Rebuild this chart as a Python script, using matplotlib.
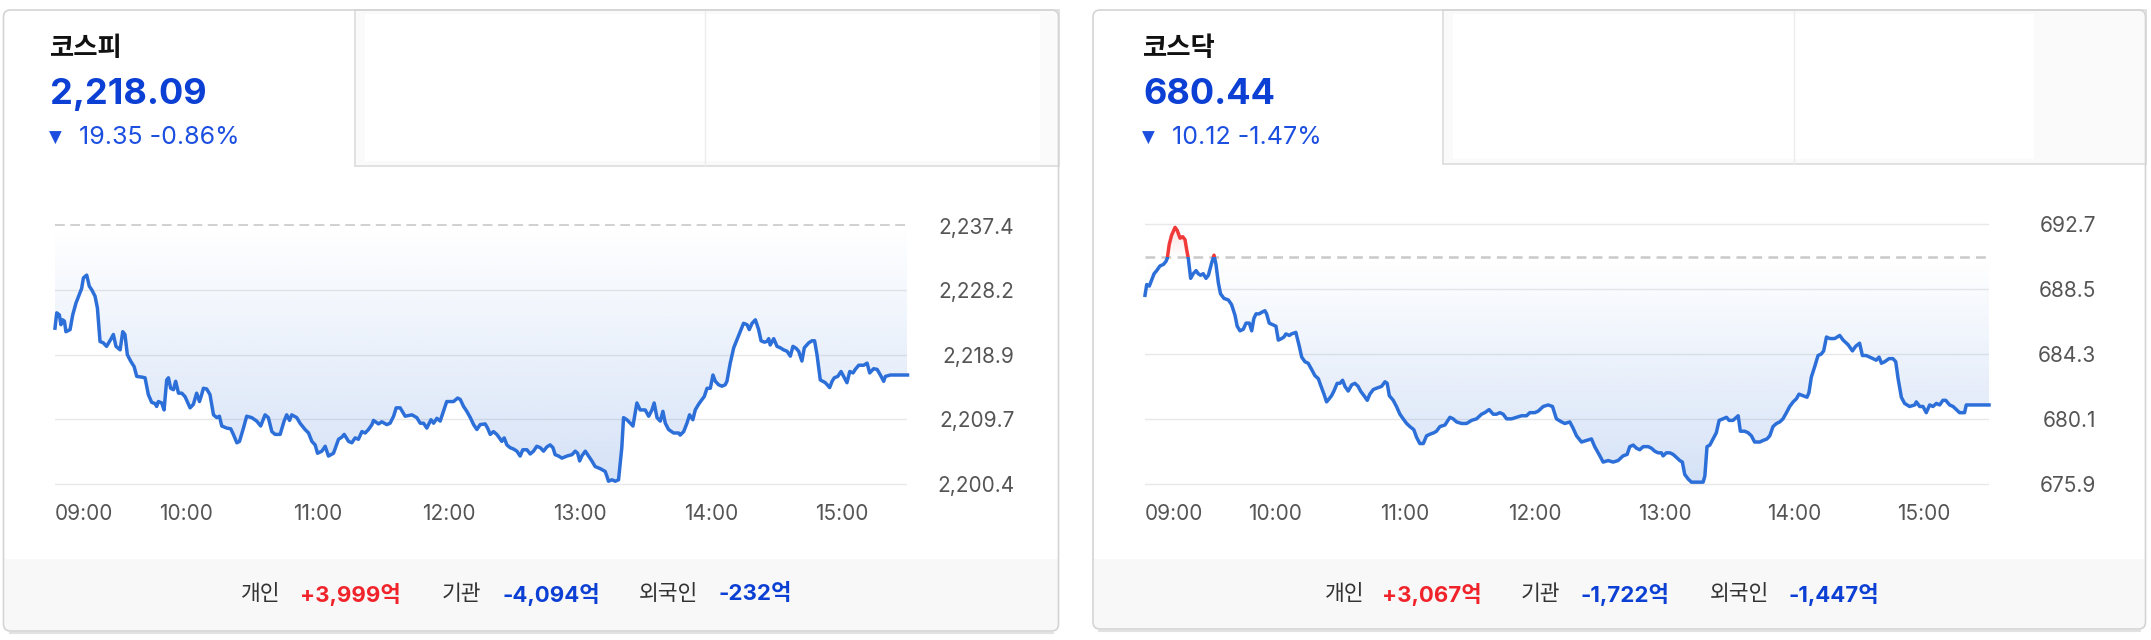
import matplotlib
matplotlib.use("Agg")
import matplotlib.pyplot as plt
import numpy as np
from matplotlib.patches import Rectangle, FancyBboxPatch

plt.rcParams['font.family'] = ['Inter', 'Noto Sans CJK KR', 'DejaVu Sans']
plt.rcParams['lines.scale_dashes'] = False

# ---- data (minutes after 09:00, index value) ----
kospi_min = [0, 0.8, 2.0, 2.7, 3.5, 4.3, 5.0, 6.9, 8.1, 9.6, 11.1, 12.2, 13.0, 14.5, 15.7, 16.8,
             18.3, 19.4, 20.6, 22.1, 23.6, 25.5, 26.7, 27.9, 29.8, 31.0, 32.0, 33.1, 34.6, 36.2,
             37.4, 39.7, 41.2, 42.7, 44.2, 45.8, 46.5, 47.3, 48.8, 49.9, 51.1, 51.9, 52.9, 54.2,
             55.2, 56.5, 58.0, 59.5, 61.8, 63.3, 64.8, 66.1, 67.1, 67.9, 69.4, 70.9, 72.5, 74.0,
             75.2, 76.3, 78.6, 80.4, 81.6, 83.2, 84.4, 86.2, 87.7, 90.0, 92.3, 94.1, 96.1, 97.6,
             99.2, 100.7, 103.0, 104.8, 106.0, 107.3, 108.3, 110.6, 112.1, 114.4, 116.0, 117.5,
             119.0, 120.1, 122.1, 123.6, 125.1, 127.4, 129.7, 131.2, 132.3, 134.3, 135.8, 137.3,
             138.8, 140.4, 141.9, 143.4, 145.0, 145.7, 148.0, 149.5, 151.8, 153.3, 154.9, 156.1,
             157.9, 160.2, 163.3, 165.5, 167.1, 168.6, 170.1, 172.0, 173.2, 174.7, 176.2, 177.7,
             179.2, 182.3, 184.2, 185.4, 186.9, 188.4, 190.0, 191.5, 193.0,
             194.5, 196.8, 197.9, 199.1, 200.6, 202.1, 203.3, 204.4, 205.5, 206.7, 208.2, 209.8,
             211.3, 212.8, 214.0, 215.9, 217.4, 218.9, 220.4, 222.0, 223.5, 225.0, 226.5, 227.8,
             228.8, 230.4, 231.9, 234.2, 236.5, 238.0, 239.1, 240.0, 241.0, 242.6, 244.1, 245.6,
             247.1, 249.4, 251.7, 252.5, 253.2, 254.8, 256.3, 257.8, 259.3, 260.1, 261.6, 263.2,
             264.4, 266.2, 267.7, 270.0, 271.6, 273.1, 274.1, 275.4, 276.9, 278.1, 279.2, 280.7,
             283.0, 285.3, 286.0, 287.6, 289.1, 290.3, 291.8, 292.9, 294.4, 296.0, 297.0, 298.3,
             299.8, 301.0, 302.1, 303.6, 305.1, 306.6, 307.4, 308.9, 310.5, 312.3, 313.5, 315.0,
             316.6, 317.6, 318.9, 320.4, 321.9, 323.0, 324.5, 325.7, 326.5, 327.2, 328.8, 330.3,
             331.8, 333.3, 334.9, 336.4, 337.6, 339.1, 340.2, 341.7, 342.8, 344.8, 346.3, 347.5,
             348.6, 350.1, 352.4, 354.4, 355.5, 356.5, 358.1, 359.6, 360.8, 362.3, 363.6, 365.1,
             366.1, 367.7, 370.0, 371.5, 372.7, 374.5, 376.1, 377.6, 379.1, 379.9, 382.2, 390.0]
kospi_val = [2222.7, 2224.9, 2224.6, 2223.2, 2223.9, 2223.7, 2222.2, 2222.5, 2224.6, 2226.3, 2227.5,
             2228.4, 2229.9, 2230.3, 2228.7, 2228.2, 2227.3, 2225.6, 2220.8, 2220.6, 2220.1, 2221.1,
             2221.8, 2220.1, 2219.6, 2222.2, 2221.8, 2218.9, 2218.0, 2217.2, 2215.8, 2215.7, 2215.6,
             2213.2, 2212.1, 2211.9, 2211.5, 2212.2, 2212.0, 2211.0, 2215.3, 2215.6, 2214.1, 2213.9,
             2215.1, 2213.4, 2213.4, 2212.9, 2211.3, 2211.8, 2213.4, 2212.2, 2213.2, 2214.1, 2214.0,
             2213.2, 2210.3, 2209.9, 2210.1, 2208.7, 2208.4, 2208.3, 2207.5, 2206.3, 2206.5, 2208.4,
             2210.1, 2209.9, 2209.4, 2208.7, 2210.3, 2209.9, 2207.9, 2207.5, 2207.5, 2209.4, 2210.3,
             2209.5, 2210.3, 2209.9, 2209.1, 2208.2, 2207.7, 2206.5, 2206.0, 2204.8, 2205.1, 2205.8,
             2204.4, 2204.8, 2206.8, 2207.1, 2207.5, 2206.5, 2206.3, 2207.0, 2206.8, 2207.9, 2207.7,
             2208.2, 2208.9, 2209.5, 2209.0, 2209.3, 2208.9, 2209.1, 2210.1, 2211.3, 2211.3, 2210.1,
             2210.3, 2209.9, 2209.1, 2209.1, 2208.4, 2209.6, 2209.1, 2209.8, 2209.4, 2210.8, 2212.2,
             2212.2, 2212.7, 2212.5, 2211.5, 2210.8, 2209.9, 2208.9, 2208.2,
             2208.9, 2209.0, 2208.4, 2207.5, 2207.9, 2207.5, 2207.0, 2206.5, 2207.0, 2206.0, 2205.6,
             2205.4, 2205.1, 2204.4, 2205.3, 2205.3, 2204.7, 2205.1, 2205.8, 2205.6, 2205.1, 2205.7,
             2206.0, 2205.6, 2204.6, 2204.4, 2204.1, 2204.4, 2204.6, 2205.1, 2204.8, 2203.7, 2204.4,
             2205.1, 2204.4, 2203.7, 2202.9, 2202.6, 2202.2, 2201.5, 2200.8, 2201.0, 2200.8, 2201.0,
             2205.6, 2209.9, 2209.6, 2209.1, 2208.7, 2212.0, 2211.0, 2211.0, 2210.1, 2211.0, 2212.0,
             2209.9, 2209.4, 2210.8, 2209.1, 2208.2, 2207.7, 2207.7, 2207.4, 2207.9, 2209.1, 2210.3,
             2209.6, 2211.0, 2211.8, 2212.5, 2212.9, 2214.1, 2214.1, 2216.0, 2215.1, 2214.6, 2214.4,
             2214.6, 2215.1, 2217.7, 2219.9, 2221.3, 2222.2, 2223.4, 2223.2, 2222.5, 2223.4, 2223.9,
             2222.5, 2220.9, 2220.7, 2220.8, 2221.2, 2220.3, 2221.2, 2220.1, 2219.9, 2219.6, 2219.4,
             2218.7, 2220.1, 2219.8, 2219.4, 2218.0, 2219.9, 2220.6, 2220.9, 2220.9, 2218.9, 2215.3,
             2214.9, 2214.2, 2215.1, 2215.6, 2215.8, 2216.5, 2215.8, 2214.9, 2216.5, 2216.3, 2216.8,
             2217.4, 2217.4, 2217.7, 2216.3, 2216.9, 2216.8, 2216.0, 2215.1, 2215.8, 2216.0, 2216.0]

kosdaq_min = [0, 0.8, 2.0, 3.1, 4.2, 5.4, 6.9, 8.5, 9.7, 10.3, 11.2, 12.3, 13.9, 14.9, 16.2, 17.4,
              18.5, 19.2, 20.0, 21.1, 22.3, 23.6, 24.6, 25.7, 26.9, 28.2, 29.3, 30.8, 31.9, 32.8,
              33.9, 34.9, 36.5, 38.5, 40.0, 41.6, 42.6, 43.9, 45.4, 46.7, 48.2, 49.3, 50.3, 51.3,
              52.8, 53.9, 55.4, 56.2, 57.4, 59.0, 60.5, 61.6, 63.1, 64.2, 65.1, 66.7, 67.7, 69.7,
              71.3, 72.4, 73.9, 75.4, 77.0, 78.5, 80.1, 81.1, 82.7, 83.9, 85.1, 86.2, 87.3, 88.8,
              90.1, 91.3, 92.4, 93.9, 95.5, 97.0, 98.5, 99.6, 101.2, 102.7, 103.9, 105.5, 107.3,
              109.3, 110.9, 111.9, 112.9, 114.7, 116.2, 117.8, 119.3, 120.9, 122.4, 124.2, 125.5,
              127.0, 128.6, 130.1, 131.6, 133.5, 134.7, 136.3, 138.6, 140.9, 142.4, 144.0, 146.3,
              148.6, 150.9, 153.2, 155.5, 157.0, 159.0, 160.9, 162.4, 164.0, 165.5, 167.1, 169.4,
              171.7, 174.0, 176.3, 177.8, 180.1, 181.7, 184.0, 186.3, 188.3, 190.1, 192.5, 194.0,
              196.3, 197.8, 199.4, 201.7, 204.0, 206.3, 207.8, 210.2, 211.7, 214.0, 216.3, 218.6,
              220.9, 222.8, 224.0, 225.6, 227.1, 228.6, 230.2, 232.5, 234.0, 235.6, 237.1, 238.6,
              239.4, 240.9, 242.5, 244.0, 245.6, 247.1, 248.3, 249.4, 251.0, 252.5, 254.0, 256.3,
              257.9, 258.7, 259.7, 261.0, 262.5, 264.0, 265.3, 267.1, 268.7, 269.9, 271.7, 273.3,
              274.1, 275.1, 277.1, 278.7, 280.2, 281.7, 284.1, 285.6, 287.4, 288.7, 290.2, 291.8,
              293.3, 294.8, 296.4, 297.9, 299.5, 301.0, 302.2, 304.1, 305.9, 306.8, 307.9, 309.5,
              311.0, 312.5, 313.6, 314.9, 316.4, 318.7, 321.0, 322.6, 324.9, 326.9, 328.4, 330.2,
              331.5, 333.3, 334.9, 336.4, 337.9, 339.2, 340.3, 341.8, 343.8, 345.6, 346.9, 348.0,
              349.5, 351.0, 353.3, 355.7, 356.4, 358.0, 359.5, 361.0, 362.6, 364.1, 365.7, 367.2,
              368.7, 370.0, 371.8, 373.4, 374.9, 376.4, 378.7, 379.5, 381.1, 390.0]
kosdaq_val = [688.1, 688.8, 688.7, 689.1, 689.5, 689.7, 690.0, 690.1, 690.3, 690.5, 691.4, 692.0,
              692.5, 692.3, 691.8, 691.9, 691.7, 691.1, 690.5, 689.2, 689.5, 689.7, 689.5, 689.4,
              689.5, 689.2, 689.4, 690.2, 690.7, 690.1, 688.9, 688.2, 687.9, 687.8, 687.5, 686.8,
              686.1, 685.8, 685.9, 686.3, 686.3, 685.8, 686.6, 686.9, 686.9, 687.0, 687.1, 686.9,
              686.3, 686.2, 686.1, 685.2, 685.3, 685.4, 685.6, 685.5, 685.6, 685.7, 684.8, 684.1,
              683.8, 683.7, 683.3, 682.9, 682.7, 682.3, 681.7, 681.2, 681.4, 681.6, 681.9, 682.4,
              682.4, 682.6, 682.2, 681.9, 682.3, 682.4, 682.2, 681.9, 681.6, 681.3, 681.7, 682.0,
              682.1, 682.2, 682.5, 682.4, 681.6, 681.3, 680.9, 680.4, 680.1, 679.8, 679.6, 679.4,
              678.9, 678.5, 678.5, 679.0, 679.1, 679.2, 679.3, 679.6, 679.7, 680.2, 680.1, 679.9,
              679.8, 679.8, 680.0, 680.1, 680.4, 680.5, 680.7, 680.4, 680.4, 680.5, 680.4, 680.1,
              680.1, 680.2, 680.3, 680.3, 680.5, 680.5, 680.6, 680.9, 681.0, 680.9, 680.1, 679.9,
              679.8,
              679.9, 679.5, 679.0, 678.6, 678.7, 678.8, 678.3, 677.7, 677.3, 677.4, 677.3, 677.4,
              677.7, 677.8, 678.3, 678.4, 678.2, 678.1, 678.3, 678.3, 678.2, 678.0, 677.9, 677.9,
              677.7, 677.9, 677.9, 677.8, 677.6, 677.4, 677.3, 676.5, 676.2, 676.0, 676.0, 676.0,
              676.0, 676.4, 678.3, 678.4, 678.8, 679.2, 680.0, 680.1, 680.2, 680.0, 680.0, 680.2,
              680.3, 679.3, 679.3, 679.2, 679.0, 678.6, 678.6, 678.7, 678.8, 679.0, 679.6, 679.8,
              679.9, 680.1, 680.5, 680.9, 681.2, 681.4, 681.7, 681.6, 681.5, 681.8, 682.8, 683.5,
              684.2, 684.3, 684.5, 685.4, 685.3, 685.3, 685.5, 685.2, 684.9, 684.5, 684.8, 685.0,
              684.2, 684.2, 684.1, 684.0, 683.9, 684.1, 683.7, 683.8, 684.0, 684.0, 683.8, 682.7,
              681.5, 681.1, 680.9, 681.0, 681.2, 680.9, 680.9, 680.5, 681.0, 680.9, 681.1, 681.0,
              681.3, 681.3, 681.0, 680.9, 680.7, 680.5, 680.5, 681.0, 681.0, 681.0]

kospi_prev_close = 2237.44
kosdaq_prev_close = 690.56
kospi_ticks = [2200.4, 2209.7, 2218.9, 2228.2, 2237.4]
kosdaq_ticks = [675.9, 680.1, 684.3, 688.5, 692.7]
hour_ticks = [0, 60, 120, 180, 240, 300, 360]
hour_labels = ['09:00', '10:00', '11:00', '12:00', '13:00', '14:00', '15:00']

names = ['코스피', '코스닥']
prices = ['2,218.09', '680.44']
changes = ['19.35 -0.86%', '10.12 -1.47%']
investors = ['개인', '기관', '외국인']
kospi_flows = ['+3,999억', '-4,094억', '-232억']
kosdaq_flows = ['+3,067억', '-1,722억', '-1,447억']

W, H = 2151, 640
BLUE = '#2d6fd8'
RED = '#f03a3a'
NUM_BLUE = '#0c3fd3'
FLOW_RED = '#f0232b'

fig = plt.figure(figsize=(W / 100, H / 100), dpi=100)
bg = fig.add_axes([0, 0, 1, 1])
bg.set_xlim(0, W)
bg.set_ylim(H, 0)
bg.axis('off')


def draw_card(x0, x1, top, bot, tab_r, tab_b, div, inner_r):
    bg.add_patch(FancyBboxPatch((x0, top), x1 - x0, bot - top,
                                boxstyle='round,pad=0,rounding_size=7',
                                fc='white', ec='none', zorder=1))
    bg.add_patch(Rectangle((x0 + 1, 559), x1 - x0 - 2, bot - 559 - 1,
                           fc='#f8f8f8', ec='none', zorder=2))
    # empty tabs
    bg.add_patch(Rectangle((tab_r, top), x1 - tab_r, tab_b - top,
                           fc='#fafafa', ec='#dcdcdc', lw=1.2, zorder=2))
    bg.add_patch(Rectangle((tab_r + 10, top + 4), inner_r - tab_r - 10, tab_b - top - 9,
                           fc='white', ec='none', zorder=2))
    bg.plot([div, div], [top, tab_b], color='#ececec', lw=1, zorder=3)
    bg.add_patch(FancyBboxPatch((x0, top), x1 - x0, bot - top,
                                boxstyle='round,pad=0,rounding_size=7',
                                fc='none', ec='#d4d4d4', lw=1.2, zorder=4))
    bg.plot([x0 + 6, x1 - 6], [bot + 1.5, bot + 1.5], color='#e2e2e2', lw=1.5, zorder=0)


def draw_header(x, name, price, change):
    bg.text(x, 48, name, family=['Noto Sans CJK KR'], weight='bold', fontsize=19,
            color='#111111', va='center', ha='left', zorder=5)
    bg.text(x, 104, price, weight='bold', fontsize=26, color=NUM_BLUE,
            va='baseline', ha='left', zorder=5)
    bg.text(x - 1, 143, '▼', family=['DejaVu Sans'], fontsize=12, color='#1c4fe0',
            va='baseline', ha='left', zorder=5)
    bg.text(x + 29, 144, change, fontsize=18, color='#1c4fe0',
            va='baseline', ha='left', zorder=5)


def draw_footer(xs, flows):
    for i, lab in enumerate(investors):
        bg.text(xs[2 * i], 594, lab, family=['Noto Sans CJK KR'], fontsize=15.5,
                color='#333333', va='center', ha='left', zorder=5)
        col = FLOW_RED if flows[i].startswith('+') else NUM_BLUE
        bg.text(xs[2 * i + 1], 594, flows[i], weight='bold', fontsize=16,
                color=col, va='center', ha='left', zorder=5)


def draw_chart(px, minutes, vals, base, ticks, grid_px, dash, dash_lw):
    x0, x1, y0, y1 = px
    per_px = (ticks[-1] - ticks[0]) / (grid_px[1] - grid_px[0])
    ylo = ticks[0] - (y1 - grid_px[1]) * per_px
    yhi = ticks[-1] + (grid_px[0] - y0) * per_px
    ax = fig.add_axes([x0 / W, 1 - y1 / H, (x1 - x0) / W, (y1 - y0) / H])
    ax.set_facecolor('none')
    ax.set_zorder(10)
    for s in ax.spines.values():
        s.set_visible(False)

    t = np.array(minutes)
    v = np.array(vals)

    for tk in ticks:
        if abs(tk - base) > 0.2:
            ax.axhline(tk, color='#e8e8e8', lw=1.0, zorder=0)

    # gradient area between price and previous close
    ys = np.linspace(ylo, yhi, 400)
    rgba = np.zeros((400, 1, 4))
    below = ys < base
    rgba[below, 0, 0:3] = np.array([45, 110, 215]) / 255
    rgba[below, 0, 3] = 0.21 * (base - ys[below]) / (base - ylo)
    rgba[~below, 0, 0:3] = np.array([240, 60, 60]) / 255
    rgba[~below, 0, 3] = 0.22 * (ys[~below] - base) / (yhi - base)
    poly = ax.fill_between(t, v, base, facecolor='none', edgecolor='none')
    im = ax.imshow(rgba, extent=(0, 390, ylo, yhi), origin='lower', aspect='auto',
                   interpolation='bilinear', zorder=1)
    im.set_clip_path(poly.get_paths()[0], ax.transData)

    ax.axhline(base, color='#c9c9c9', lw=dash_lw, dashes=dash, zorder=2)

    blue_line, = ax.plot(t, v, color=BLUE, lw=2.5, solid_joinstyle='round', zorder=4)
    blue_line.set_clip_path(Rectangle((-50, ylo - 50), 500, base - ylo + 50,
                                      transform=ax.transData))
    red_line, = ax.plot(t, v, color=RED, lw=2.5, solid_joinstyle='round', zorder=4)
    red_line.set_clip_path(Rectangle((-50, base), 500, 50, transform=ax.transData))

    ax.set_xlim(0, 390)
    ax.set_ylim(ylo, yhi)
    ax.set_xticks(hour_ticks)
    ax.set_xticklabels(hour_labels)
    ax.get_xticklabels()[0].set_ha('left')
    ax.tick_params(axis='x', length=0, pad=7, labelsize=15, labelcolor='#555555')
    ax.yaxis.tick_right()
    ax.set_yticks(ticks)
    ax.set_yticklabels([f'{tk:,.1f}' for tk in ticks])
    ax.tick_params(axis='y', length=0, pad=77, labelsize=15, labelcolor='#555555')
    for lab in ax.get_yticklabels():
        lab.set_ha('right')
    return ax


# left card: KOSPI
draw_card(3.5, 1058.5, 10, 631, 355, 166, 705, 1040)
draw_header(50, names[0], prices[0], changes[0])
draw_footer([241, 300, 442, 503, 639, 719], kospi_flows)
draw_chart((55, 907.5, 215, 494), kospi_min, kospi_val, kospi_prev_close,
           kospi_ticks, (225.5, 484), (7, 4), 1.2)

# right card: KOSDAQ
draw_card(1093, 2145.5, 10, 629, 1443, 164, 1794, 2034)
draw_header(1143, names[1], prices[1], changes[1])
draw_footer([1325, 1382, 1521, 1581, 1710, 1789], kosdaq_flows)
draw_chart((1145, 1989, 214, 494), kosdaq_min, kosdaq_val, kosdaq_prev_close,
           kosdaq_ticks, (224.3, 483.7), (7, 4.5), 1.8)

fig.savefig('out.png', dpi=100, facecolor='white')
